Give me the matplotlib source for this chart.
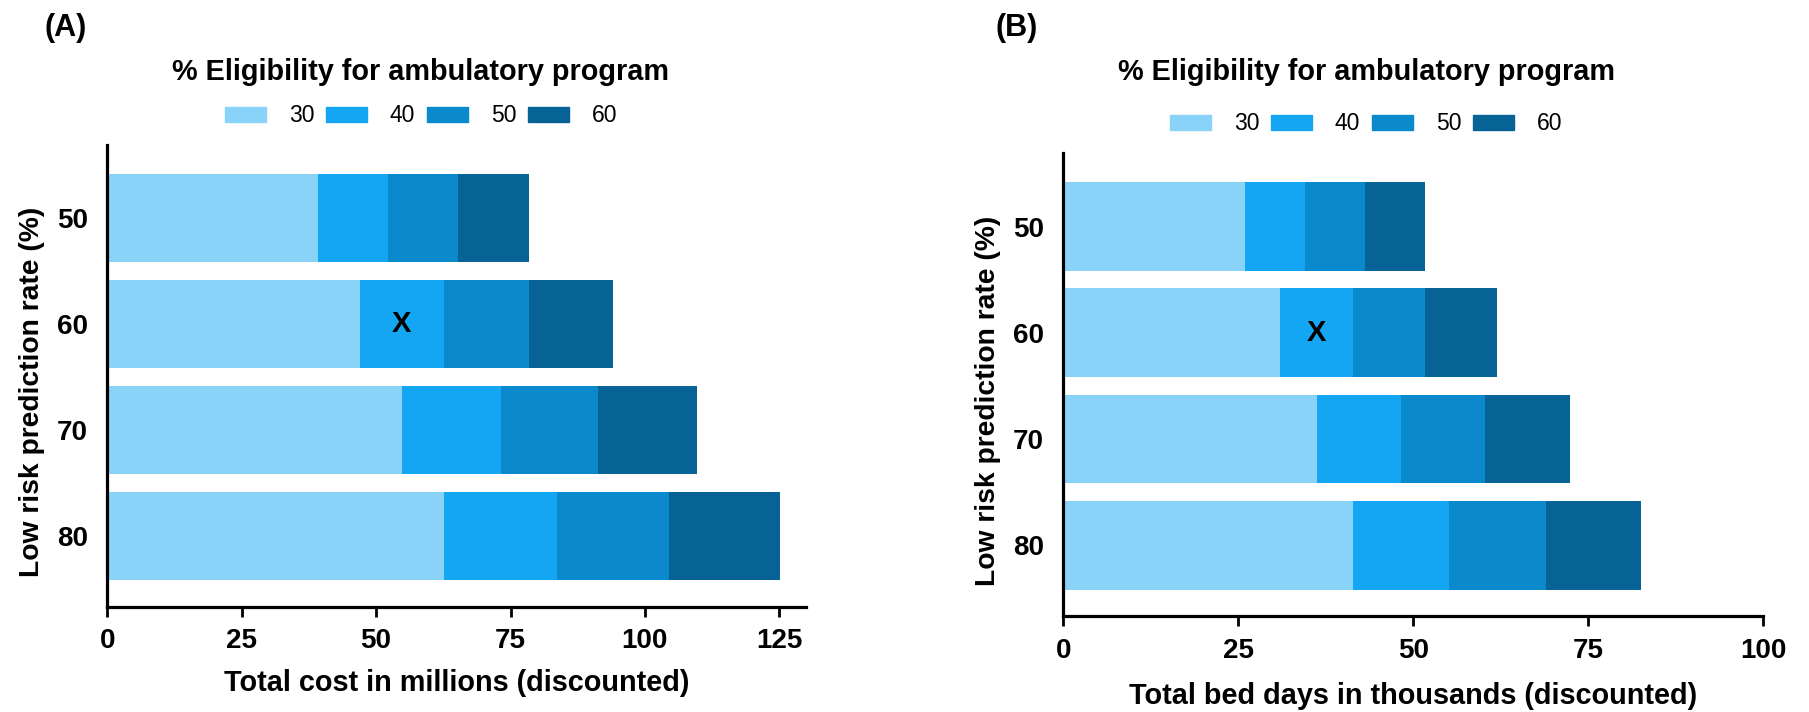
import numpy as np
import matplotlib
matplotlib.use("Agg")
import matplotlib.pyplot as plt
import matplotlib.patches as mpatches

plt.rcParams.update({"font.family": ["Liberation Sans", "DejaVu Sans"]})

# low-risk prediction rate (%) on y, eligibility (%) as series
rates = ["50", "60", "70", "80"]
eligibility = ["30", "40", "50", "60"]

# total cost (millions, discounted) per eligibility level
cost = {
    "30": [39.2, 47.0, 54.8, 62.6],
    "40": [52.2, 62.6, 73.2, 83.6],
    "50": [65.2, 78.4, 91.3, 104.4],
    "60": [78.4, 94.0, 109.6, 125.2],
}
# total bed days (thousands, discounted) per eligibility level
beds = {
    "30": [25.9, 31.0, 36.2, 41.4],
    "40": [34.6, 41.4, 48.3, 55.1],
    "50": [43.1, 51.7, 60.3, 68.9],
    "60": [51.7, 62.0, 72.4, 82.6],
}
base_rate, base_elig = "60", "40"   # base case, marked with X

colors = {"30": "#8AD3F8", "40": "#14A6F2", "50": "#0A89CC", "60": "#076296"}

W, H = 1809, 712
fig = plt.figure(figsize=(W / 100, H / 100), dpi=100)


def px(x0, y_top, x1, y_bot):
    return [x0 / W, 1 - y_bot / H, (x1 - x0) / W, (y_bot - y_top) / H]


def panel(ax, data, xmax, xticks, xlabel, xl_y):
    y = np.arange(len(rates))
    # overlapping bars drawn from the widest one down
    for e in eligibility[::-1]:
        ax.barh(y, data[e], height=0.835, color=colors[e], zorder=2)
    # X in the base-case segment
    ri = rates.index(base_rate)
    ei = eligibility.index(base_elig)
    lo = data[eligibility[ei - 1]][ri]
    hi = data[base_elig][ri]
    ax.text((lo + hi) / 2, ri, "X", ha="center", va="center",
            fontsize=21, fontweight="bold", zorder=3)

    ax.set_xlim(0, xmax)
    ax.set_ylim(3.667, -0.69)
    ax.set_xticks(xticks)
    ax.set_yticks(y)
    ax.set_yticklabels(rates)
    for s in ["top", "right"]:
        ax.spines[s].set_visible(False)
    for s in ["left", "bottom"]:
        ax.spines[s].set_linewidth(2.3)
    ax.tick_params(axis="x", direction="out", length=7.5, width=2.0,
                   pad=8, labelsize=20)
    ax.tick_params(axis="y", length=0, pad=14, labelsize=20)
    for t in ax.get_xticklabels() + ax.get_yticklabels():
        t.set_fontweight("bold")
    ax.set_xlabel(xlabel, fontsize=20.8, fontweight="bold", va="center")
    ax.xaxis.set_label_coords(0.5, xl_y)
    ax.set_ylabel("Low risk prediction rate (%)", fontsize=20.3,
                  fontweight="bold", va="center")
    ax.yaxis.set_label_coords(-0.108, 0.466)


axA = fig.add_axes(px(107.3, 145, 806.2, 606.7))
panel(axA, cost, 130, [0, 25, 50, 75, 100, 125],
      "Total cost in millions (discounted)", -0.165)

axB = fig.add_axes(px(1063.3, 153.3, 1763.2, 616))
panel(axB, beds, 100, [0, 25, 50, 75, 100],
      "Total bed days in thousands (discounted)", -0.173)

# panel letters
fig.text(44 / W, 1 - 28 / H, "(A)", fontsize=22, fontweight="bold",
         ha="left", va="center")
fig.text(995 / W, 1 - 28 / H, "(B)", fontsize=22, fontweight="bold",
         ha="left", va="center")

# legends
handles = [mpatches.Patch(color=colors[e], label=e) for e in eligibility]
for cx, title_y, row_y in [(421, 72, 116), (1366, 72, 124)]:
    fig.text(cx / W, 1 - title_y / H, "% Eligibility for ambulatory program",
             fontsize=20.8, fontweight="bold", ha="center", va="center")
    fig.legend(handles=handles, loc="center", ncol=4,
               bbox_to_anchor=(cx / W, 1 - row_y / H), frameon=False,
               fontsize=16.5, handlelength=1.8, handleheight=0.6,
               handletextpad=1.0, columnspacing=0.5, borderpad=0)

fig.savefig("out.png", dpi=100)
